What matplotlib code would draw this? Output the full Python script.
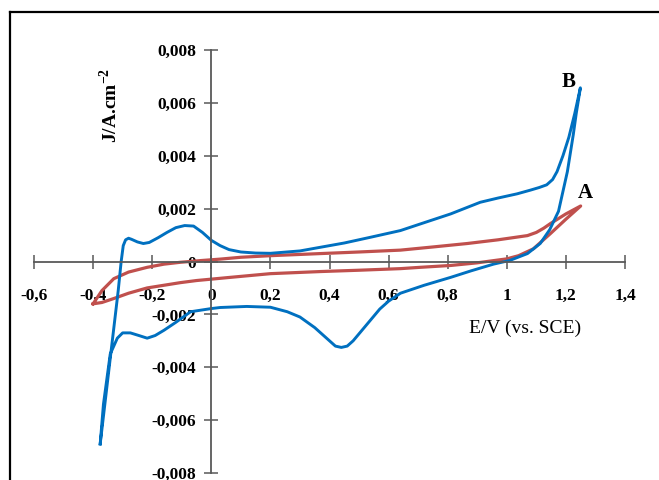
import numpy as np
import matplotlib
matplotlib.use("Agg")
import matplotlib.pyplot as plt
from matplotlib.lines import Line2D

plt.rcParams["font.family"] = ["Liberation Serif", "DejaVu Serif"]
plt.rcParams["mathtext.fontset"] = "custom"
plt.rcParams["mathtext.rm"] = "Liberation Serif:bold"
plt.rcParams["mathtext.bf"] = "Liberation Serif:bold"

# curve B (blue), forward scan
b_fwd_x = [-0.376, -0.355, -0.335, -0.315, -0.305, -0.298, -0.29, -0.28, -0.27, -0.25, -0.23,
           -0.21, -0.18, -0.15, -0.12, -0.09, -0.06, -0.03, 0.0, 0.03, 0.06, 0.1, 0.15,
           0.2, 0.3, 0.37, 0.45, 0.54, 0.64, 0.71, 0.81, 0.91, 0.97, 1.035, 1.08, 1.11,
           1.135, 1.155, 1.17, 1.19, 1.21, 1.23, 1.249]
b_fwd_y = [-0.0069, -0.0049, -0.003, -0.0011, 0.0, 0.0006, 0.00082, 0.00088, 0.00084, 0.00074,
           0.00068, 0.00072, 0.0009, 0.0011, 0.00128, 0.00136, 0.00134, 0.0011, 0.0008, 0.0006,
           0.00045, 0.00036, 0.00032, 0.00031, 0.0004, 0.00054, 0.0007, 0.00092, 0.00117,
           0.00143, 0.0018, 0.00224, 0.0024, 0.00256, 0.0027, 0.0028, 0.0029, 0.0031, 0.0034,
           0.004, 0.0047, 0.0056, 0.00657]
# curve B, reverse scan
b_rev_x = [1.249, 1.235, 1.225, 1.205, 1.175, 1.145, 1.113, 1.07, 1.01, 0.955, 0.88, 0.81,
           0.72, 0.64, 0.6, 0.57, 0.54, 0.51, 0.48, 0.46, 0.44, 0.42, 0.39, 0.35, 0.3,
           0.257, 0.2, 0.12, 0.03, 0.0, -0.07, -0.12, -0.16, -0.19, -0.217, -0.245, -0.274,
           -0.3, -0.318, -0.342, -0.365, -0.376]
b_rev_y = [0.00657, 0.0056, 0.0048, 0.0034, 0.0019, 0.0012, 0.00068, 0.0003, 0.00004,
           -0.0001, -0.00035, -0.0006, -0.0009, -0.0012, -0.0015, -0.0018, -0.0022,
           -0.0026, -0.003, -0.0032, -0.00325, -0.0032, -0.0029, -0.0025, -0.0021, -0.0019,
           -0.00173, -0.0017, -0.00174, -0.00178, -0.0019, -0.0023, -0.0026, -0.0028,
           -0.0029, -0.0028, -0.0027, -0.0027, -0.0029, -0.0035, -0.0054, -0.0069]

# curve A (red), forward scan
a_fwd_x = [-0.4, -0.37, -0.33, -0.28, -0.217, -0.16, -0.105, -0.03, 0.03, 0.1, 0.2, 0.37,
           0.5, 0.64, 0.75, 0.866, 0.97, 1.07, 1.1, 1.125, 1.147, 1.2, 1.25]
a_fwd_y = [-0.0016, -0.0011, -0.00065, -0.0004, -0.00022, -0.0001, -0.00003, 0.00004,
           0.00009, 0.00016, 0.00022, 0.0003, 0.00036, 0.00043, 0.00055, 0.00068, 0.00082,
           0.00098, 0.0011, 0.00126, 0.00143, 0.0018, 0.0021]
# curve A, reverse scan
a_rev_x = [1.25, 1.2, 1.147, 1.09, 1.04, 1.0, 0.9, 0.81, 0.707, 0.64, 0.5, 0.37, 0.2, 0.064,
           -0.05, -0.105, -0.217, -0.28, -0.33, -0.37, -0.4]
a_rev_y = [0.0021, 0.0016, 0.00105, 0.00048, 0.00022, 0.0001, -0.00005, -0.00015, -0.00022,
           -0.00027, -0.00033, -0.00038, -0.00046, -0.0006, -0.00072, -0.0008, -0.001,
           -0.0012, -0.0014, -0.00155, -0.0016]

x_ticks = [-0.6, -0.4, -0.2, 0.0, 0.2, 0.4, 0.6, 0.8, 1.0, 1.2, 1.4]
x_labels = ["-0,6", "-0,4", "-0,2", "0", "0,2", "0,4", "0,6", "0,8", "1", "1,2", "1,4"]
y_ticks = [-0.008, -0.006, -0.004, -0.002, 0.0, 0.002, 0.004, 0.006, 0.008]
y_labels = ["-0,008", "-0,006", "-0,004", "-0,002", "0", "0,002", "0,004", "0,006", "0,008"]

blue = "#0070C0"
red = "#C0504D"
grey = "#595959"

fig = plt.figure(figsize=(6.59, 4.8), dpi=100)
ax = fig.add_axes([34 / 659, 1 - 473 / 480, (625 - 34) / 659, (473 - 50) / 480])

ax.plot(a_fwd_x + a_rev_x, a_fwd_y + a_rev_y, color=red, lw=2.3, solid_joinstyle="round")
ax.plot(b_fwd_x + b_rev_x, b_fwd_y + b_rev_y, color=blue, lw=2.1, solid_joinstyle="round")

ax.set_xlim(-0.6, 1.4)
ax.set_ylim(-0.008, 0.008)
for side in ["top", "right"]:
    ax.spines[side].set_visible(False)
for side in ["left", "bottom"]:
    ax.spines[side].set_position(("data", 0))
    ax.spines[side].set_color(grey)
    ax.spines[side].set_linewidth(1.3)

ax.set_xticks(x_ticks)
ax.set_xticklabels(x_labels)
ax.set_yticks(y_ticks)
ax.set_yticklabels(y_labels)
ax.tick_params(axis="both", direction="inout", length=10, width=1.1, color=grey,
               labelsize=12.5)
ax.tick_params(axis="x", pad=14)
ax.tick_params(axis="y", pad=6)
for lab in ax.get_xticklabels() + ax.get_yticklabels():
    lab.set_fontweight("bold")

ax.text(1.21, 0.0068, "B", fontsize=15, fontweight="bold", ha="center", va="center")
ax.text(1.265, 0.0026, "A", fontsize=15, fontweight="bold", ha="center", va="center")

fig.text(525 / 659, 1 - 328 / 480, "E/V (vs. SCE)", fontsize=14, ha="center", va="center")
fig.text(110 / 659, 1 - 105 / 480, r"J/A.cm$^{-2}$", fontsize=14, fontweight="bold",
         rotation=90, ha="center", va="center")

# outer frame (left and top edges visible)
fig.add_artist(Line2D([10 / 659, 10 / 659], [0, 1 - 12 / 480], color="black", lw=1.6,
                      transform=fig.transFigure))
fig.add_artist(Line2D([10 / 659, 1], [1 - 12 / 480, 1 - 12 / 480], color="black", lw=1.6,
                      transform=fig.transFigure))

fig.savefig("out.png", dpi=100)
